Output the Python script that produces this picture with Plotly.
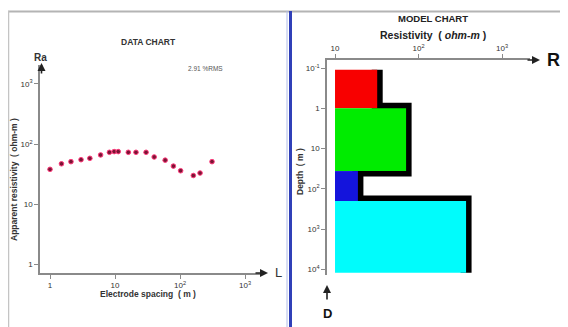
import plotly.graph_objects as go

W, H = 568, 327
OX, OY = 8, 8  # page body margin compensation

# ---------------- DATA CHART values ----------------
spacing = [1.0, 1.5, 2.1, 3.0, 4.1, 6.0, 8.2, 9.7, 11.2, 16, 21, 30, 40, 59, 79, 102, 160, 203, 310]
app_res = [38, 47, 51, 55, 58, 66, 73, 75, 75, 73, 73, 73, 61, 54, 43, 36, 30, 33, 51]
sp_tick_vals = [1, 10, 100, 1000]
sp_tick_text = ["1", "10", "10<sup>2</sup>", "10<sup>3</sup>"]
ra_tick_vals = [1, 10, 100, 1000]
ra_tick_text = ["1", "10", "10<sup>2</sup>", "10<sup>3</sup>"]
rms_text = "2.91 %RMS"

# ---------------- MODEL CHART values ----------------
layer_top = [0.11, 1.0, 36, 200]
layer_bottom = [1.0, 36, 200, 12000]
layer_res = [32, 71, 18.8, 371]
layer_colors = ["#f80000", "#00ec00", "#1414dc", "#00fcfc"]
base_res = 10
depth_tick_vals = [0.1, 1, 10, 100, 1000, 10000]
depth_tick_text = ["10<sup>-1</sup>", "1", "10", "10<sup>2</sup>", "10<sup>3</sup>", "10<sup>4</sup>"]
res_tick_vals = [10, 100, 1000]
res_tick_text = ["10", "10<sup>2</sup>", "10<sup>3</sup>"]


def px(x):
    return (x - OX) / W


def py(y):
    return 1 - (y - OY) / H


FONT = "Liberation Sans, Arial, sans-serif"

fig = go.Figure()

# data points
fig.add_trace(go.Scatter(
    x=spacing, y=app_res, mode="markers",
    marker=dict(size=4.6, color="#7a1434", line=dict(color="#ff3c7c", width=1)),
    xaxis="x", yaxis="y", showlegend=False, hoverinfo="skip"))

# model step line (black shadow)
sx, sy = [], []
for t, b, r in zip(layer_top, layer_bottom, layer_res):
    sx += [r, r]
    sy += [t, b]
fig.add_trace(go.Scatter(
    x=sx, y=sy, mode="lines", line=dict(color="#000000", width=11),
    xaxis="x2", yaxis="y2", showlegend=False, hoverinfo="skip"))

# layer fills
for t, b, r, c in zip(layer_top, layer_bottom, layer_res, layer_colors):
    fig.add_trace(go.Scatter(
        x=[base_res, r, r, base_res, base_res], y=[t, t, b, b, t],
        mode="lines", fill="toself", fillcolor=c, line=dict(width=0, color=c),
        xaxis="x2", yaxis="y2", showlegend=False, hoverinfo="skip"))

axis_common = dict(type="log", showgrid=False, zeroline=False, showline=True,
                   linecolor="#8a8a8a", linewidth=1.5, ticks="outside", ticklen=4,
                   tickcolor="#8a8a8a", tickfont=dict(family=FONT, size=8, color="#333333"),
                   fixedrange=True)

fig.update_layout(
    width=W, height=H, margin=dict(l=0, r=0, t=0, b=0),
    paper_bgcolor="white", plot_bgcolor="white",
    font=dict(family=FONT),
    xaxis=dict(axis_common, range=[-0.154, 3.26], domain=[px(40), px(262)], anchor="y",
               tickvals=sp_tick_vals, ticktext=sp_tick_text),
    yaxis=dict(axis_common, range=[-0.145, 3.316], domain=[py(273), py(65)], anchor="x",
               tickvals=ra_tick_vals, ticktext=ra_tick_text),
    xaxis2=dict(axis_common, range=[0.904, 3.335], domain=[px(327), px(530)], anchor="y2",
                side="top", tickvals=res_tick_vals, ticktext=res_tick_text),
    yaxis2=dict(axis_common, range=[4.136, -1.2], domain=[py(275), py(60)], anchor="x2",
                tickvals=depth_tick_vals, ticktext=depth_tick_text),
)

# frame decorations
fig.add_shape(type="line", xref="paper", yref="paper", x0=px(8), x1=1, y0=py(11.5), y1=py(11.5),
              line=dict(color="#b4b4b4", width=2))
fig.add_shape(type="line", xref="paper", yref="paper", x0=px(8.5), x1=px(8.5), y0=py(11), y1=0,
              line=dict(color="#c4c4c4", width=1.5))
fig.add_shape(type="line", xref="paper", yref="paper", x0=px(287), x1=px(287), y0=py(11), y1=0,
              line=dict(color="#b0bce8", width=1))
fig.add_shape(type="line", xref="paper", yref="paper", x0=px(290.5), x1=px(290.5), y0=py(11), y1=0,
              line=dict(color="#3040b8", width=3))


def text(x, y, s, size, bold=True, color="#222222", angle=0, xanchor="center"):
    fig.add_annotation(xref="paper", yref="paper", x=px(x), y=py(y), text=(f"<b>{s}</b>" if bold else s),
                       showarrow=False, textangle=angle, xanchor=xanchor, yanchor="middle",
                       font=dict(family=FONT, size=size, color=color))


def arrow(x, y, ax, ay):
    fig.add_annotation(xref="paper", yref="paper", x=px(x), y=py(y), text="", showarrow=True,
                       ax=ax, ay=ay, arrowhead=2, arrowsize=1, arrowwidth=1.6, arrowcolor="#222222")


# left panel texts
text(148, 42, "DATA CHART", 8.5, color="#333333")
text(205, 68, rms_text, 6.5, bold=False, color="#555555")
text(40, 57, "Ra", 10, color="#333333")
arrow(41.5, 63, 0, 12)
arrow(268, 273, -14, 0)
text(278, 272, "L", 13, bold=False, color="#333333")
text(148, 294, "Electrode spacing  ( m )", 8.5, color="#333333")
text(14, 180, "Apparent resistivity  ( ohm-m )", 8.5, color="#333333", angle=-90)

# right panel texts
text(433, 19, "MODEL CHART", 9.5, color="#222222")
text(433, 35, "Resistivity  ( <i>ohm-m</i> )", 10.5, color="#222222")
arrow(540, 60, -14, 0)
text(553, 60, "R", 18, color="#111111")
arrow(327, 285, 0, 16)
text(327, 313, "D", 13, color="#111111")
text(300, 172, "Depth  ( m )", 8.5, color="#333333", angle=-90)

fig.write_html("out.html")
